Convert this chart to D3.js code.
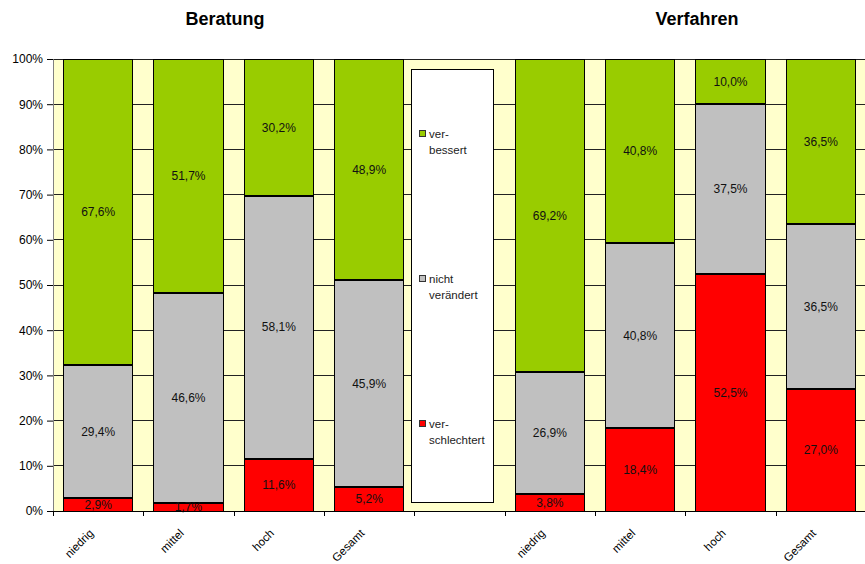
<!DOCTYPE html>
<html><head><meta charset="utf-8">
<script src="https://cdn.jsdelivr.net/npm/d3@7"></script>
<style>body{margin:0;background:#fff}svg{display:block;font-family:"Liberation Sans",Arial,sans-serif}</style>
</head><body>
<svg id="c" width="865" height="564"></svg>
<script>
const slots = ["B_niedrig","B_mittel","B_hoch","B_Gesamt","legend","V_niedrig","V_mittel","V_hoch","V_Gesamt"];
const slotLabels = ["niedrig","mittel","hoch","Gesamt","","niedrig","mittel","hoch","Gesamt"];
const barSlots = ["B_niedrig","B_mittel","B_hoch","B_Gesamt","V_niedrig","V_mittel","V_hoch","V_Gesamt"];
const verschlechtert = [2.9, 1.7, 11.6, 5.2, 3.8, 18.4, 52.5, 27.0];
const nichtVeraendert = [29.4, 46.6, 58.1, 45.9, 26.9, 40.8, 37.5, 36.5];
const verbessert = [67.6, 51.7, 30.2, 48.9, 69.2, 40.8, 10.0, 36.5];
const seriesNames = ["verschlechtert","nicht verändert","verbessert"];
const legendLines = [["ver-","bessert"],["nicht","verändert"],["ver-","schlechtert"]];
const colors = {"verschlechtert":"#FF0000","nicht verändert":"#C0C0C0","verbessert":"#99CC00"};
const yTicks = [0,0.1,0.2,0.3,0.4,0.5,0.6,0.7,0.8,0.9,1.0];
const titles = [{t:"Beratung",x:225},{t:"Verfahren",x:697}];

const svg = d3.select("#c");
const L=53, R=866, T=59, B=511;
const x = d3.scaleBand().domain(slots).range([L,R]).paddingInner(0.236).paddingOuter(0.118);
const y = d3.scaleLinear().domain([0,1]).range([B,T]);

svg.append("rect").attr("x",L).attr("y",T).attr("width",R-L).attr("height",B-T).attr("fill","#FFFFCC");
svg.append("g").selectAll("line").data(yTicks.filter(d=>d>0)).join("line")
  .attr("x1",L).attr("x2",R).attr("y1",d=>y(d)).attr("y2",d=>y(d)).attr("stroke","#222").attr("stroke-width",1).attr("shape-rendering","crispEdges");

const table = barSlots.map((s,i)=>({slot:s,"verschlechtert":verschlechtert[i],"nicht verändert":nichtVeraendert[i],"verbessert":verbessert[i]}));
table.forEach(r=>{r.total=r["verschlechtert"]+r["nicht verändert"]+r["verbessert"];});
const stack = d3.stack().keys(seriesNames).value((d,k)=>d[k]/d.total);
const series = stack(table);

const g = svg.append("g");
series.forEach(s=>{
  g.selectAll(null).data(s).join("rect")
    .attr("x",d=>x(d.data.slot)).attr("width",x.bandwidth())
    .attr("y",d=>y(d[1])).attr("height",d=>y(d[0])-y(d[1]))
    .attr("fill",colors[s.key]).attr("stroke","#000").attr("stroke-width",1).attr("shape-rendering","crispEdges");
});
series.slice(0,2).forEach(s=>{
  g.selectAll(null).data(s).join("line")
    .attr("x1",d=>x(d.data.slot)).attr("x2",d=>x(d.data.slot)+x.bandwidth())
    .attr("y1",d=>Math.round(y(d[1]))).attr("y2",d=>Math.round(y(d[1])))
    .attr("stroke","#000").attr("stroke-width",2);
});
series.forEach(s=>{
  g.selectAll(null).data(s).join("text")
    .attr("x",d=>x(d.data.slot)+x.bandwidth()/2).attr("y",d=>(y(d[0])+y(d[1]))/2)
    .attr("dy","0.35em").attr("text-anchor","middle").attr("font-size",12).attr("fill","#111")
    .text(d=>d3.format(".1f")(d.data[s.key]).replace(".",",")+"%");
});

const ya = svg.append("g").attr("transform",`translate(${L},0)`)
  .call(d3.axisLeft(y).tickValues(yTicks).tickFormat(d3.format(".0%")).tickSize(6).tickPadding(4));
ya.select(".domain").attr("stroke","#808080");
ya.selectAll(".tick line").attr("stroke","#000");
ya.selectAll("text").attr("font-size",12).attr("fill","#000").attr("font-family","Liberation Sans, Arial, sans-serif");

svg.append("line").attr("x1",L).attr("x2",R).attr("y1",B+0.5).attr("y2",B+0.5).attr("stroke","#000");
const bnd = slots.map((s,i)=>L+i*x.step());
svg.append("g").selectAll("line").data(bnd).join("line")
  .attr("x1",d=>Math.round(d)+0.5).attr("x2",d=>Math.round(d)+0.5).attr("y1",B).attr("y2",B+5).attr("stroke","#000");
svg.append("g").selectAll("text").data(slots).join("text")
  .attr("transform",d=>`translate(${x(d)+x.bandwidth()/2-4},${B+23}) rotate(-45)`)
  .attr("text-anchor","end").attr("font-size",11.5).attr("fill","#000")
  .text((d,i)=>slotLabels[i]);

const lg = svg.append("g");
lg.append("rect").attr("x",411.5).attr("y",69.5).attr("width",82).attr("height",433).attr("fill","#fff").attr("stroke","#000");
const legendY = [130, 275, 420];
["verbessert","nicht verändert","verschlechtert"].forEach((k,i)=>{
  lg.append("rect").attr("x",419.5).attr("y",legendY[i]+0.5).attr("width",6).attr("height",6).attr("fill",colors[k]).attr("stroke","#333");
  legendLines[i].forEach((t,j)=>{
    lg.append("text").attr("x",429).attr("y",legendY[i]+8+j*15.5).attr("font-size",11.5).attr("fill","#222").text(t);
  });
});

titles.forEach(o=>svg.append("text").attr("x",o.x).attr("y",25).attr("text-anchor","middle").attr("font-size",18).attr("font-weight","bold").text(o.t));
</script>
</body></html>
